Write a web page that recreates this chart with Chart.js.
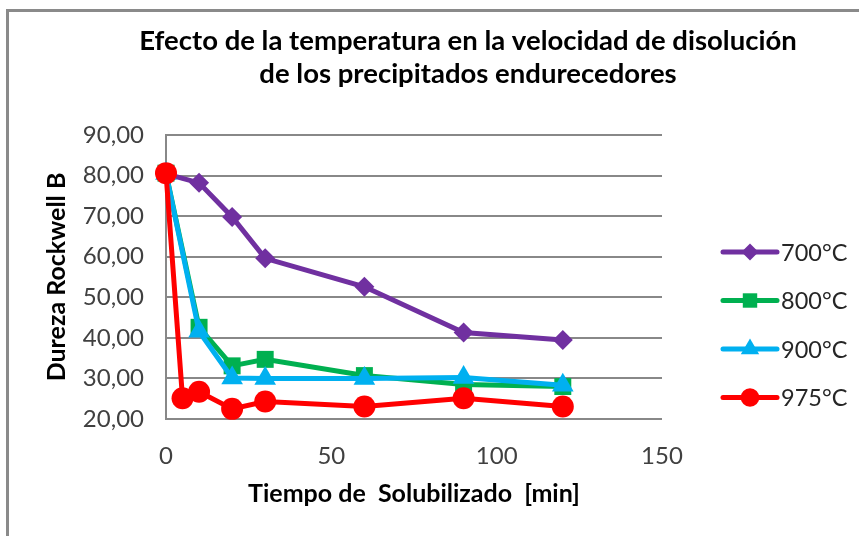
<!DOCTYPE html>
<html>
<head>
<meta charset="utf-8">
<script src="https://cdn.jsdelivr.net/npm/chart.js@4/dist/chart.umd.min.js"></script>
<style>
    body { margin: 0; overflow: hidden; background: #fff; }
    #wrap { position: relative; width: 859px; height: 536px; overflow: hidden; }
    #frame { position: absolute; left: 6px; top: 9px; width: 1000px; height: 600px;
             border-top: 3px solid #8a8a8a; border-left: 3px solid #8a8a8a; }
    #chart { position: absolute; left: 0; top: 0; }
</style>
</head>
<body>
<div id="wrap">
    <div id="frame"></div>
    <canvas id="chart" width="936" height="536"></canvas>
</div>
<script>
//values
const titulo = ['Efecto de la temperatura en la velocidad de disolución', 'de los precipitados endurecedores']
const series = ['700°C', '800°C', '900°C', '975°C']

const tiempo700 = [0, 10, 20, 30, 60, 90, 120]
const dureza700 = [80.4, 78.2, 69.8, 59.6, 52.6, 41.3, 39.5]

const tiempo800 = [0, 10, 20, 30, 60, 90, 120]
const dureza800 = [80.6, 42.6, 33.1, 34.7, 30.7, 28.5, 28.0]

const tiempo900 = [0, 10, 20, 30, 60, 90, 120]
const dureza900 = [80.5, 41.6, 30.1, 30.0, 30.0, 30.2, 28.3]

const tiempo975 = [0, 5, 10, 20, 30, 60, 90, 120]
const dureza975 = [80.6, 25.1, 26.7, 22.5, 24.3, 23.1, 25.1, 23.1]

const xTicks = [0, 50, 100, 150]

//helper to build {x,y} pairs
function pares(xs, ys) {
    return xs.map((x, i) => ({ x: x, y: ys[i] }))
}

const colores = ['#7030A0', '#00B050', '#00B0F0', '#FF0000']
const marcas = ['rectRot', 'rect', 'triangle', 'circle']
const radios = [10, 12, 12.5, 11]

//legend drawn by hand so the marker sits on the line like in excel
function marca(ctx, estilo, x, y, r) {
    ctx.beginPath()
    if (estilo === 'rectRot') {
        ctx.moveTo(x, y - r); ctx.lineTo(x + r, y); ctx.lineTo(x, y + r); ctx.lineTo(x - r, y)
    } else if (estilo === 'rect') {
        const s = r * Math.SQRT1_2
        ctx.rect(x - s, y - s, 2 * s, 2 * s)
    } else if (estilo === 'triangle') {
        ctx.moveTo(x, y - r); ctx.lineTo(x + r * 0.866, y + r * 0.5); ctx.lineTo(x - r * 0.866, y + r * 0.5)
    } else {
        ctx.arc(x, y, r, 0, Math.PI * 2)
    }
    ctx.closePath()
    ctx.fill()
}

//title + legend, the title is centred on the whole (cropped) excel chart, not the canvas
const textos = {
    id: 'textos',
    afterDraw(chart) {
        const ctx = chart.ctx
        ctx.save()
        ctx.fillStyle = '#000'
        ctx.font = 'bold 27.5px Lato'
        ctx.textAlign = 'center'
        ctx.textBaseline = 'middle'
        ctx.fillText(titulo[0], 468, 41)
        ctx.fillText(titulo[1], 468, 74)

        ctx.textAlign = 'left'
        chart.data.datasets.forEach((ds, i) => {
            const y = 252 + i * 48.5
            ctx.strokeStyle = colores[i]
            ctx.fillStyle = colores[i]
            ctx.lineWidth = 5
            ctx.lineCap = 'round'
            ctx.beginPath()
            ctx.moveTo(723, y)
            ctx.lineTo(777, y)
            ctx.stroke()
            marca(ctx, marcas[i], 750, y, radios[i] * 0.85)
            ctx.fillStyle = '#262626'
            ctx.font = '23.5px Lato'
            ctx.fillText(ds.label, 781, y + 1)
        })
        ctx.restore()
    }
}

const dataPorSerie = [pares(tiempo700, dureza700), pares(tiempo800, dureza800), pares(tiempo900, dureza900), pares(tiempo975, dureza975)]

new Chart(document.querySelector('#chart').getContext('2d'), {
    type: 'line',
    data: {
        datasets: series.map((s, i) => ({
            label: s,
            data: dataPorSerie[i],
            borderColor: colores[i],
            backgroundColor: colores[i],
            borderWidth: 5,
            pointStyle: marcas[i],
            pointRadius: radios[i],
            pointHoverRadius: radios[i],
            pointBorderWidth: 0,
            order: 3 - i,
            clip: false,
            tension: 0
        }))
    },
    options: {
        responsive: false,
        animation: false,
        layout: { padding: { left: 0, right: 274, top: 135, bottom: 0 } },
        plugins: {
            legend: { display: false },
            tooltip: { enabled: false },
            title: { display: false }
        },
        scales: {
            x: {
                type: 'linear',
                min: 0,
                max: 150,
                afterBuildTicks: scale => { scale.ticks = xTicks.map(v => ({ value: v })) },
                afterFit: scale => { scale.height = 117 },
                grid: { display: false },
                border: { display: false },
                ticks: { color: '#404040', font: { family: 'Lato', size: 24 }, padding: 15 },
                title: {
                    display: true,
                    text: 'Tiempo de  Solubilizado  [min]',
                    color: '#000',
                    font: { family: 'Lato', size: 25, weight: 'bold' },
                    padding: { top: 0, bottom: 27 }
                }
            },
            y: {
                min: 20,
                max: 90,
                afterFit: scale => { scale.width = 166 },
                ticks: {
                    stepSize: 10,
                    color: '#404040',
                    font: { family: 'Lato', size: 24 },
                    padding: 22,
                    callback: v => v.toFixed(2).replace('.', ',')
                },
                grid: { color: '#888', lineWidth: 2, drawTicks: false },
                border: { display: true, color: '#888', width: 2 },
                title: {
                    display: true,
                    text: 'Dureza Rockwell B',
                    color: '#000',
                    font: { family: 'Lato', size: 25, weight: 'bold' },
                    padding: { top: 42, bottom: 0 }
                }
            }
        }
    },
    plugins: [textos]
})
</script>
</body>
</html>
